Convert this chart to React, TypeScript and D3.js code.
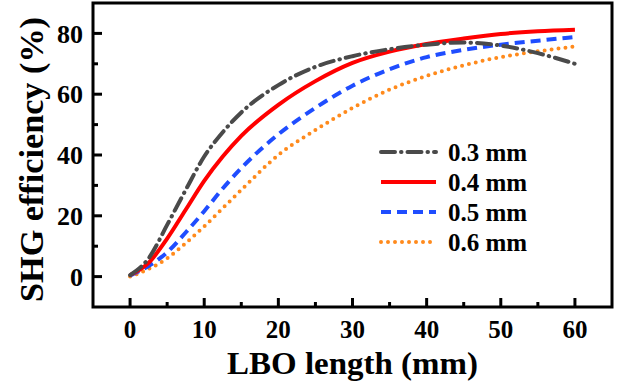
import React, { useRef, useEffect } from "react";
import * as d3 from "d3";

// LBO length (mm) sampled along the curves
const lengths = [0, 2.5, 5, 7.5, 10, 12.5, 15, 20, 25, 30, 35, 40, 45, 50, 55, 60];

// SHG efficiency (%) for each beam waist
const eff03 = [0.5, 6, 17, 28.5, 39.5, 47.5, 54, 63, 69, 72.5, 74.8, 76.3, 77, 76, 73.5, 70];
const eff04 = [0.5, 4.5, 12.5, 22, 31.5, 39.5, 46.3, 56.5, 64.3, 70.3, 74, 76.5, 78.3, 79.8, 80.7, 81.2];
const eff05 = [0.3, 3.5, 8, 14.5, 21.5, 29, 35.7, 46.8, 55.5, 62.8, 68.2, 72.2, 74.6, 76.3, 77.6, 78.8];
const eff06 = [0, 2.5, 6, 11, 16.5, 22.5, 28.5, 40, 48.2, 55.5, 61.5, 66, 69.5, 72.2, 74.1, 75.7];

const seriesNames = ["0.3 mm", "0.4 mm", "0.5 mm", "0.6 mm"];
const xTicks = [0, 10, 20, 30, 40, 50, 60];
const yTicks = [0, 20, 40, 60, 80];

const App = () => {
  const ref = useRef<SVGSVGElement>(null);

  useEffect(() => {
    const m = { left: 93, top: 3, right: 612, bottom: 307 };
    const svg = d3.select(ref.current);
    svg.selectAll("*").remove();

    const x = d3.scaleLinear().domain([-5, 65]).range([m.left, m.right]);
    const y = d3.scaleLinear().domain([-10, 90]).range([m.bottom, m.top]);

    const font = "'Liberation Serif', 'Times New Roman', serif";

    const styles = [
      { color: "#4a4a4a", dash: "14 6 0.5 6", cap: "round" },
      { color: "#ff0000", dash: null, cap: "butt" },
      { color: "#1f4dff", dash: "10 6", cap: "butt" },
      { color: "#ff8a1c", dash: "0 7", cap: "round" },
    ];
    const all = [eff03, eff04, eff05, eff06];

    const line = d3
      .line<number>()
      .x((d, i) => x(lengths[i]))
      .y((d) => y(d))
      .curve(d3.curveMonotoneX);

    // lower curves first so gray ends on top like the original
    [3, 2, 1, 0].forEach((k) => {
      const p = svg
        .append("path")
        .datum(all[k])
        .attr("fill", "none")
        .attr("stroke", styles[k].color)
        .attr("stroke-width", 4)
        .attr("stroke-linecap", styles[k].cap)
        .attr("d", line);
      if (styles[k].dash) p.attr("stroke-dasharray", styles[k].dash);
    });

    // frame
    svg
      .append("rect")
      .attr("x", m.left)
      .attr("y", m.top)
      .attr("width", m.right - m.left)
      .attr("height", m.bottom - m.top)
      .attr("fill", "none")
      .attr("stroke", "#000")
      .attr("stroke-width", 3);

    // ticks point inward
    const xMinor = d3.range(5, 60, 10);
    const yMinor = [10, 30, 50, 70];
    const g = svg.append("g").attr("stroke", "#000").attr("stroke-width", 3);
    xTicks.forEach((t) => {
      g.append("line").attr("x1", x(t)).attr("x2", x(t)).attr("y1", m.bottom).attr("y2", m.bottom - 9);
    });
    xMinor.forEach((t) => {
      g.append("line").attr("x1", x(t)).attr("x2", x(t)).attr("y1", m.bottom).attr("y2", m.bottom - 5);
    });
    yTicks.forEach((t) => {
      g.append("line").attr("x1", m.left).attr("x2", m.left + 9).attr("y1", y(t)).attr("y2", y(t));
    });
    yMinor.forEach((t) => {
      g.append("line").attr("x1", m.left).attr("x2", m.left + 5).attr("y1", y(t)).attr("y2", y(t));
    });

    svg
      .append("g")
      .selectAll("text")
      .data(xTicks)
      .join("text")
      .attr("x", (d) => x(d))
      .attr("y", 338)
      .attr("text-anchor", "middle")
      .attr("font-family", font)
      .attr("font-weight", "bold")
      .attr("font-size", 25)
      .text((d) => d);

    svg
      .append("g")
      .selectAll("text")
      .data(yTicks)
      .join("text")
      .attr("x", 83)
      .attr("y", (d) => y(d))
      .attr("dy", "0.35em")
      .attr("text-anchor", "end")
      .attr("font-family", font)
      .attr("font-weight", "bold")
      .attr("font-size", 26)
      .text((d) => d);

    svg
      .append("text")
      .attr("x", 227)
      .attr("y", 374)
      .attr("font-family", font)
      .attr("font-weight", "bold")
      .attr("font-size", 31)
      .attr("textLength", 251)
      .attr("lengthAdjust", "spacingAndGlyphs")
      .text("LBO length (mm)");

    svg
      .append("text")
      .attr("transform", `translate(43, 302) rotate(-90)`)
      .attr("font-family", font)
      .attr("font-weight", "bold")
      .attr("font-size", 34)
      .attr("textLength", 285)
      .attr("lengthAdjust", "spacingAndGlyphs")
      .text("SHG efficiency (%)");

    // legend
    const legend = svg.append("g");
    seriesNames.forEach((name, i) => {
      const ly = 152 + i * 30;
      const l = legend
        .append("line")
        .attr("x1", 381)
        .attr("x2", 436)
        .attr("y1", ly)
        .attr("y2", ly)
        .attr("stroke", styles[i].color)
        .attr("stroke-width", 4)
        .attr("stroke-linecap", styles[i].cap);
      if (styles[i].dash) l.attr("stroke-dasharray", styles[i].dash);
      legend
        .append("text")
        .attr("x", 448)
        .attr("y", ly)
        .attr("dy", "0.35em")
        .attr("font-family", font)
        .attr("font-weight", "bold")
        .attr("font-size", 25)
        .text(name);
    });
  }, []);

  return (
    <div style={{ position: "fixed", left: 0, top: 0 }}>
      <svg ref={ref} width={626} height={385} style={{ display: "block", background: "#fff" }} />
    </div>
  );
};

export default App;
